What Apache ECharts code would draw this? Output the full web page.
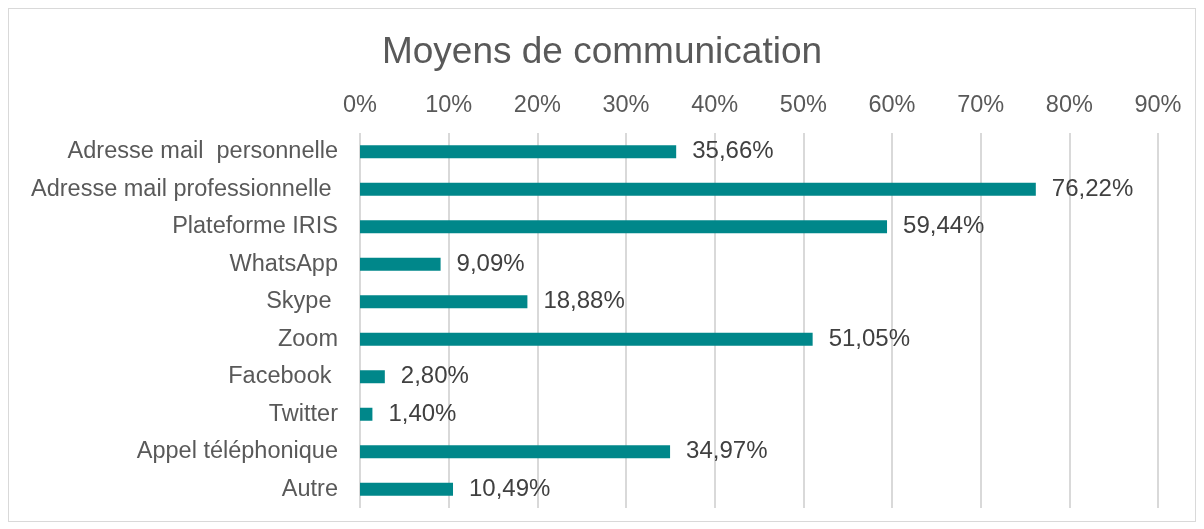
<!DOCTYPE html>
<html>
<head>
<meta charset="utf-8">
<script src="https://cdn.jsdelivr.net/npm/echarts@6/dist/echarts.min.js"></script>
<style>
  html, body { margin: 0; padding: 0; background: #fff; }
  #frame {
    position: absolute; left: 8px; top: 8px;
    width: 1186px; height: 512px;
    border: 1px solid #d9d9d9;
  }
  #chart { position: absolute; left: 0; top: 0; width: 1204px; height: 529px; }
</style>
</head>
<body>
<div id="frame"></div>
<div id="chart"></div>
<script>
// catégories, du haut vers le bas
var categories = [
  "Adresse mail  personnelle",
  "Adresse mail professionnelle ",
  "Plateforme IRIS",
  "WhatsApp",
  "Skype ",
  "Zoom",
  "Facebook ",
  "Twitter",
  "Appel téléphonique",
  "Autre"
];
var values = [35.66, 76.22, 59.44, 9.09, 18.88, 51.05, 2.80, 1.40, 34.97, 10.49];
var ticks = [0, 10, 20, 30, 40, 50, 60, 70, 80, 90];

var chart = echarts.init(document.getElementById("chart"));

var option = {
  animation: false,
  textStyle: { fontFamily: "Liberation Sans, Arial, sans-serif" },
  title: {
    text: "Moyens de communication",
    left: "center",
    top: 29,
    textStyle: {
      fontSize: 37,
      fontWeight: "normal",
      color: "#595959",
      fontFamily: "Liberation Sans, Arial, sans-serif"
    }
  },
  grid: {
    left: 360,
    right: 46,
    top: 133,
    bottom: 21,
    containLabel: false
  },
  xAxis: {
    type: "value",
    position: "top",
    min: ticks[0],
    max: ticks[ticks.length - 1],
    interval: 10,
    axisLine: { show: false },
    axisTick: { show: false },
    splitLine: { lineStyle: { color: "#d9d9d9", width: 2 } },
    axisLabel: {
      margin: 15,
      fontSize: 23.5,
      color: "#595959",
      formatter: function (v) { return v + "%"; }
    }
  },
  yAxis: {
    type: "category",
    inverse: true,
    data: categories,
    axisLine: { show: false },
    axisTick: { show: false },
    axisLabel: {
      margin: 22,
      fontSize: 23.5,
      color: "#595959"
    }
  },
  series: [
    {
      type: "bar",
      data: values,
      barWidth: 13,
      itemStyle: { color: "#00878a" },
      label: {
        show: true,
        position: "right",
        distance: 16,
        fontSize: 24,
        color: "#404040",
        formatter: function (p) {
          return p.value.toFixed(2).replace(".", ",") + "%";
        }
      }
    }
  ]
};

chart.setOption(option);
</script>
</body>
</html>
